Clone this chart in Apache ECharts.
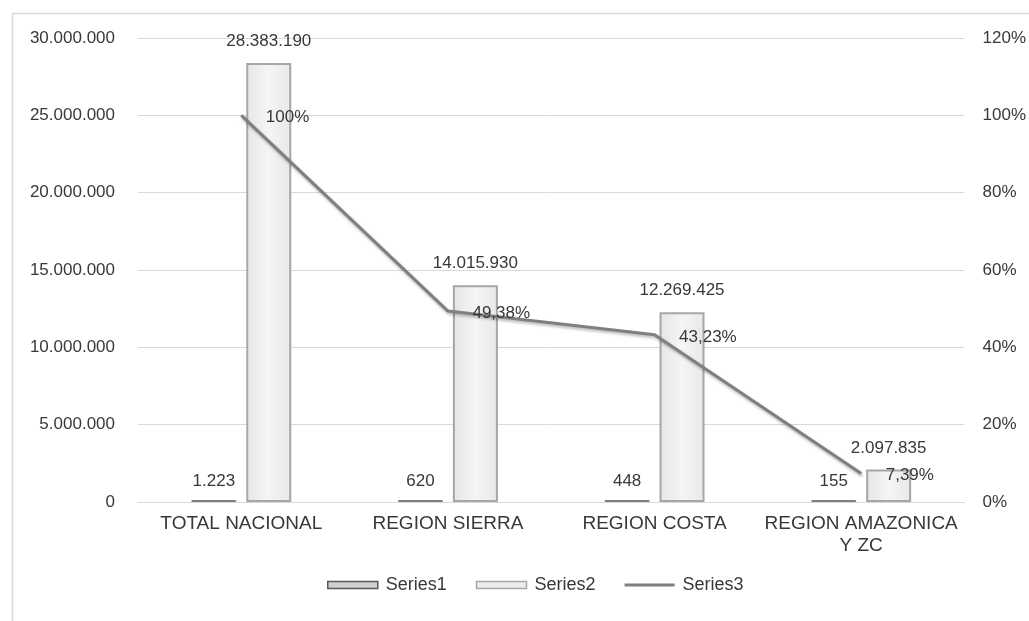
<!DOCTYPE html>
<html>
<head>
<meta charset="utf-8">
<script src="https://cdn.jsdelivr.net/npm/echarts@6/dist/echarts.min.js"></script>
<style>html,body{margin:0;padding:0;background:#fff;}#c{width:1029px;height:621px;}</style>
</head>
<body>
<div id="c"></div>
<script>
var categories = ['TOTAL NACIONAL', 'REGION SIERRA', 'REGION COSTA', 'REGION AMAZONICA\nY ZC'];
var series1 = [1223, 620, 448, 155];
var series2 = [28383190, 14015930, 12269425, 2097835];
var series3 = [1, 0.4938, 0.4323, 0.0739];

function fmtNum(v) {
  return String(Math.round(v)).replace(/\B(?=(\d{3})+(?!\d))/g, '.');
}
function fmtPct(v) {
  var p = Math.round(v * 10000) / 100;
  var s = (Math.abs(p - Math.round(p)) < 1e-9) ? String(Math.round(p)) : p.toFixed(2).replace('.', ',');
  return s + '%';
}
var FONT = 'Liberation Sans';
var TXT = '#383838';
var chart = echarts.init(document.getElementById('c'), null, {renderer: 'canvas'});
chart.setOption({
  backgroundColor: '#fff',
  animation: false,
  textStyle: {fontFamily: FONT},
  graphic: [{
    type: 'rect', left: 10, top: 11, silent: true,
    shape: {width: 1100, height: 700},
    style: {fill: 'none', stroke: '#d9d9d9', lineWidth: 1.5}
  }],
  grid: {left: 138, right: 64, top: 38, bottom: 119},
  legend: {
    bottom: 22, left: 322, itemWidth: 50, itemHeight: 7, itemGap: 29,
    textStyle: {fontFamily: FONT, fontSize: 18, color: TXT, padding: [0, 0, 0, 3]},
    data: [
      {name: 'Series1', icon: 'rect', itemStyle: {color: '#d0d0d0', borderColor: '#595959', borderWidth: 1.5}},
      {name: 'Series2', icon: 'rect', itemStyle: {color: '#ececec', borderColor: '#a6a6a6', borderWidth: 1.5}},
      {name: 'Series3', icon: 'path://M0,0 L50,0 L50,3 L0,3 Z', itemStyle: {color: '#7f7f7f', borderWidth: 0}}
    ]
  },
  xAxis: {
    type: 'category', data: categories,
    axisLine: {show: true, lineStyle: {color: '#d9d9d9', width: 1}},
    axisTick: {show: false},
    axisLabel: {fontFamily: FONT, fontSize: 19, color: TXT, margin: 11, lineHeight: 22, interval: 0}
  },
  yAxis: [{
    type: 'value', min: 0, max: 30000000, interval: 5000000,
    axisLine: {show: false}, axisTick: {show: false},
    splitLine: {lineStyle: {color: '#d9d9d9', width: 1}},
    axisLabel: {fontFamily: FONT, fontSize: 17, color: TXT, margin: 23, formatter: fmtNum}
  }, {
    type: 'value', min: 0, max: 1.2, interval: 0.2,
    axisLine: {show: false}, axisTick: {show: false}, splitLine: {show: false},
    axisLabel: {fontFamily: FONT, fontSize: 17, color: TXT, margin: 18,
      formatter: function (v) { return Math.round(v * 100) + '%'; }}
  }],
  series: [{
    name: 'Series1', type: 'bar', data: series1, barWidth: 45, barGap: '22%', barMinHeight: 2,
    itemStyle: {color: '#bfbfbf', borderColor: '#7f7f7f', borderWidth: 1},
    label: {show: true, position: 'top', distance: 10, fontFamily: FONT, fontSize: 17, color: TXT, formatter: function (p) { return fmtNum(p.value); }}
  }, {
    name: 'Series2', type: 'bar', data: series2, barWidth: 45,
    itemStyle: {
      color: new echarts.graphic.LinearGradient(0, 0, 1, 0, [
        {offset: 0, color: '#e6e6e6'}, {offset: 0.5, color: '#f5f5f5'}, {offset: 1, color: '#e8e8e8'}
      ]),
      borderColor: '#a6a6a6', borderWidth: 2
    },
    label: {show: true, position: 'top', distance: 13, fontFamily: FONT, fontSize: 17, color: TXT, formatter: function (p) { return fmtNum(p.value); }}
  }, {
    name: 'Series3', type: 'line', yAxisIndex: 1, data: series3,
    symbol: 'circle', symbolSize: 1, showSymbol: true,
    lineStyle: {color: '#7f7f7f', width: 3, shadowColor: 'rgba(0,0,0,0.3)', shadowBlur: 3, shadowOffsetX: 1, shadowOffsetY: 2},
    itemStyle: {color: 'rgba(0,0,0,0)'},
    label: {show: true, position: 'right', distance: 24, offset: [0, 2], fontFamily: FONT, fontSize: 17, color: TXT, formatter: function (p) { return fmtPct(p.value); }},
    z: 5
  }]
});
</script>
</body>
</html>
